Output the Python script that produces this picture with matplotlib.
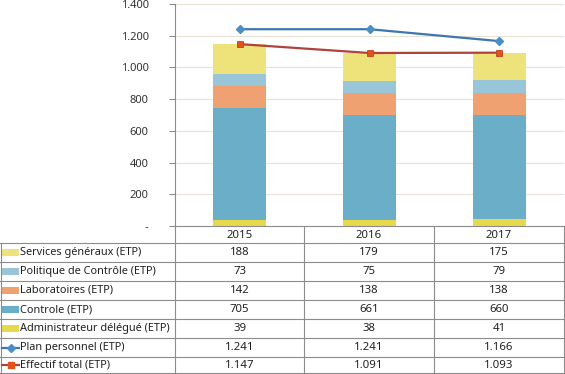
import matplotlib
matplotlib.use("Agg")
import matplotlib.pyplot as plt
from matplotlib.patches import Rectangle
from matplotlib.lines import Line2D

# Data
years = ["2015", "2016", "2017"]
admin = [39, 38, 41]
controle = [705, 661, 660]
labos = [142, 138, 138]
politique = [73, 75, 79]
services = [188, 179, 175]
plan = [1241, 1241, 1166]
effectif = [1147, 1091, 1093]

yticks = [0, 200, 400, 600, 800, 1000, 1200, 1400]

c_admin = "#e8d94c"
c_controle = "#6aaec8"
c_labos = "#f0a172"
c_politique = "#98c6d8"
c_services = "#eee27a"
c_plan = "#3f76b0"
c_plan_m = "#4a8fc4"
c_eff = "#b0423e"
c_eff_m = "#e2521a"

plt.rcParams['font.family'] = ['Noto Sans', 'DejaVu Sans']

W, H = 565, 374
fig = plt.figure(figsize=(W / 100, H / 100), dpi=100)

# pixel geometry
x0, x1 = 175, 564
ytop, ybot = 4, 226
ax = fig.add_axes([x0 / W, 1 - ybot / H, (x1 - x0) / W, (ybot - ytop) / H])

def fmt(v):
    if v == 0:
        return "-"
    return "{:,}".format(v).replace(",", ".")

x = range(len(years))
bw = 0.41
bottom = [0, 0, 0]
series = [(admin, c_admin), (controle, c_controle), (labos, c_labos),
          (politique, c_politique), (services, c_services)]
for vals, col in series:
    ax.bar(x, vals, bw, bottom=bottom, color=col, zorder=2)
    bottom = [b + v for b, v in zip(bottom, vals)]

ax.plot(x, plan, color=c_plan, lw=1.6, marker="D", ms=4.5,
        mfc=c_plan_m, mec=c_plan_m, zorder=3)
ax.plot(x, effectif, color=c_eff, lw=1.6, marker="s", ms=5,
        mfc=c_eff_m, mec="#c04020", mew=0.6, zorder=3)

ax.set_xlim(-0.5, 2.5)
ax.set_ylim(0, 1400)
ax.set_yticks(yticks)
ax.set_yticklabels([fmt(v) for v in yticks])
ax.set_xticks([])
ax.grid(axis="y", color="#e6e2d6", lw=0.8, zorder=0)
for s in ["top", "right"]:
    ax.spines[s].set_visible(False)
ax.spines["left"].set_color("#8c8c8c")
ax.spines["bottom"].set_color("#8c8c8c")
ax.tick_params(axis="y", length=4, color="#8c8c8c", labelsize=8,
               labelcolor="#333333", pad=15)

# Data table below
tab = fig.add_axes([0, 0, 1, (H - ybot) / H])
tab.set_xlim(0, W)
tab.set_ylim(H, ybot)
tab.axis("off")

grid_col = "#8c8c8c"
col_edges = [x0, 304, 434, x1]
row_h = 19
header_bot = 243
nrows = 7
row_edges = [header_bot + i * row_h for i in range(nrows + 1)]
row_edges[-1] = H - 1

for xe in col_edges:
    tab.plot([xe, xe], [ybot, row_edges[-1]], color=grid_col, lw=0.8)
tab.plot([0.5, 0.5], [header_bot, row_edges[-1]], color=grid_col, lw=0.8)
for ye in row_edges:
    tab.plot([0, x1], [ye, ye], color=grid_col, lw=0.8)

# header
for i, yr in enumerate(years):
    cx = (col_edges[i] + col_edges[i + 1]) / 2
    tab.text(cx, (ybot + header_bot) / 2 + 1, yr, ha="center", va="center",
             fontsize=8.2, color="#222222")

labels = ["Services généraux (ETP)", "Politique de Contrôle (ETP)",
          "Laboratoires (ETP)", "Controle (ETP)",
          "Administrateur délégué (ETP)", "Plan personnel (ETP)",
          "Effectif total (ETP)"]
rows = [services, politique, labos, controle, admin, plan, effectif]
keys = [c_services, c_politique, c_labos, c_controle, c_admin, "plan", "eff"]

for r, (lab, vals, key) in enumerate(zip(labels, rows, keys)):
    cy = (row_edges[r] + row_edges[r + 1]) / 2
    if key == "plan":
        tab.add_line(Line2D([2, 19], [cy, cy], color=c_plan, lw=1.6))
        tab.plot([10.5], [cy], marker="D", ms=4, color=c_plan_m)
    elif key == "eff":
        tab.add_line(Line2D([2, 19], [cy, cy], color=c_eff, lw=1.6))
        tab.plot([10.5], [cy], marker="s", ms=4.5, color=c_eff_m)
    else:
        tab.add_patch(Rectangle((2, cy - 3.5), 17, 7, color=key, lw=0))
    tab.text(20, cy, lab, ha="left", va="center", fontsize=7.9,
             color="#222222")
    for i, v in enumerate(vals):
        cx = (col_edges[i] + col_edges[i + 1]) / 2
        tab.text(cx, cy, fmt(v), ha="center", va="center", fontsize=8.2,
                 color="#222222")

fig.savefig("out.png", dpi=100)
